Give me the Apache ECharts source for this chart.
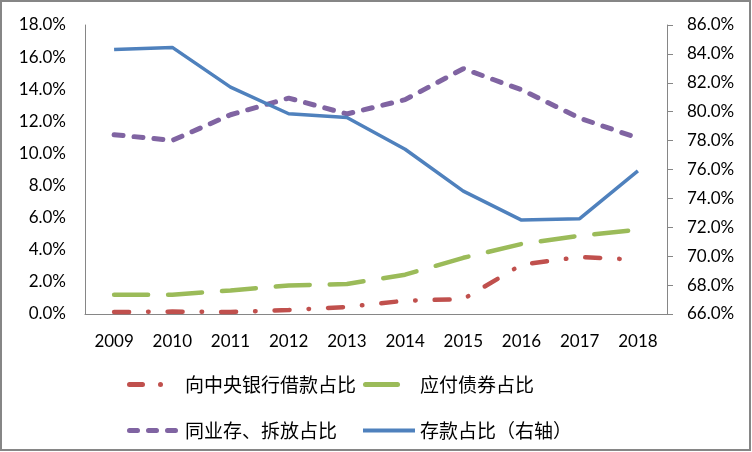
<!DOCTYPE html>
<html><head><meta charset="utf-8">
<script src="https://cdn.jsdelivr.net/npm/echarts@6/dist/echarts.min.js"></script>
<style>html,body{margin:0;padding:0;background:#fff}#c{width:752px;height:452px}</style>
</head><body><div id="c"></div>
<script>
const years = ['2009','2010','2011','2012','2013','2014','2015','2016','2017','2018'];
const centralBank = [0.12, 0.15, 0.12, 0.25, 0.44, 0.83, 0.93, 3.07, 3.55, 3.38];
const bonds = [1.2, 1.2, 1.47, 1.78, 1.87, 2.45, 3.5, 4.36, 4.88, 5.25];
const interbank = [11.17, 10.81, 12.41, 13.45, 12.46, 13.35, 15.28, 13.97, 12.2, 10.96];
const deposits = [84.3, 84.45, 81.7, 79.86, 79.6, 77.4, 74.5, 72.5, 72.6, 75.9];
const names = ['向中央银行借款占比', '应付债券占比', '同业存、拆放占比', '存款占比（右轴）'];

const FONT = 'Lato, "Noto Sans CJK SC", sans-serif';
const CJK = '"Noto Sans CJK SC", sans-serif';
const axisGrey = '#868686';
const chart = echarts.init(document.getElementById('c'), null, {renderer: 'canvas'});

function leg(name, left, top, w, h, icon, pad) {
  return {
    data: [name], left: left, top: top, itemWidth: w, itemHeight: h,
    icon: icon, padding: 0, selectedMode: false,
    textStyle: {fontFamily: CJK, fontSize: 19, color: '#000', padding: [0, 0, 0, pad]}
  };
}

chart.setOption({
  backgroundColor: '#fff',
  animation: false,
  graphic: [{type: 'rect', shape: {x: 1, y: 1, width: 749, height: 449},
    style: {fill: 'none', stroke: axisGrey, lineWidth: 2}, silent: true}],
  grid: {left: 85, right: 85, top: 25, bottom: 138},
  legend: [
    leg(names[0], 127, 375, 36, 5, 'path://M2.5,0h13a2.5,2.5 0 0 1 0,5h-13a2.5,2.5 0 0 1 0,-5z M33.5,0a2.5,2.5 0 1 1 0,5a2.5,2.5 0 1 1 0,-5z', 17),
    leg(names[1], 363, 375, 37, 5, 'path://M2.5,0h32a2.5,2.5 0 0 1 0,5h-32a2.5,2.5 0 0 1 0,-5z', 15),
    leg(names[2], 127, 421, 51, 5, 'path://M2.5,0h8a2.5,2.5 0 0 1 0,5h-8a2.5,2.5 0 0 1 0,-5z M21.5,0h8a2.5,2.5 0 0 1 0,5h-8a2.5,2.5 0 0 1 0,-5z M40.5,0h8a2.5,2.5 0 0 1 0,5h-8a2.5,2.5 0 0 1 0,-5z', 2),
    leg(names[3], 363, 421, 52, 4, 'path://M0,0h52v4h-52z', 0)
  ],
  xAxis: {
    type: 'category', data: years, boundaryGap: true,
    axisLine: {lineStyle: {color: axisGrey, width: 1}},
    axisTick: {show: false},
    axisLabel: {color: '#000', fontFamily: FONT, fontSize: 17, margin: 19}
  },
  yAxis: [
    {type: 'value', min: 0, max: 18, interval: 2, position: 'left',
     axisLine: {show: true, lineStyle: {color: axisGrey, width: 1}},
     axisTick: {show: false}, splitLine: {show: false},
     axisLabel: {color: '#000', fontFamily: FONT, fontSize: 17, margin: 19,
       formatter: v => v.toFixed(1) + '%'}},
    {type: 'value', min: 66, max: 86, interval: 2, position: 'right',
     axisLine: {show: true, lineStyle: {color: axisGrey, width: 1}},
     axisTick: {show: true, inside: false, length: 6, lineStyle: {color: axisGrey}},
     splitLine: {show: false},
     axisLabel: {color: '#000', fontFamily: FONT, fontSize: 17, margin: 20,
       formatter: v => v.toFixed(1) + '%'}}
  ],
  series: [
    {name: names[0], type: 'line', data: centralBank, yAxisIndex: 0, symbol: 'none',
     color: '#C0504D', lineStyle: {color: '#C0504D', width: 4.5, cap: 'round', type: [15, 19, 0.5, 19]}},
    {name: names[1], type: 'line', data: bonds, yAxisIndex: 0, symbol: 'none',
     color: '#9BBB59', lineStyle: {color: '#9BBB59', width: 4.5, cap: 'round', type: [34, 20]}},
    {name: names[2], type: 'line', data: interbank, yAxisIndex: 0, symbol: 'none',
     color: '#8064A2', lineStyle: {color: '#8064A2', width: 5, cap: 'round', type: [9, 11]}},
    {name: names[3], type: 'line', data: deposits, yAxisIndex: 1, symbol: 'none',
     color: '#4F81BD', lineStyle: {color: '#4F81BD', width: 3.5}}
  ]
});
</script></body></html>
